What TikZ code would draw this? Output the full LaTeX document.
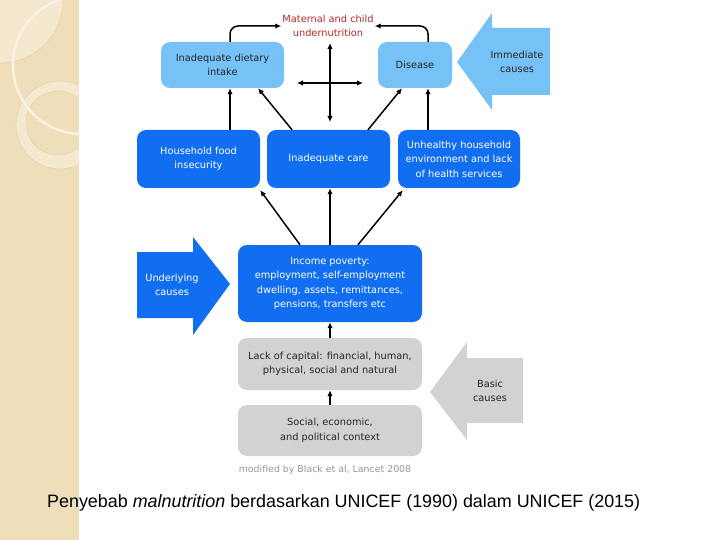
\documentclass[tikz,border=0pt]{standalone}
\usepackage{fontspec}
\setmainfont{Liberation Sans}
\newfontfamily\boxfont{DejaVu Sans}
\usetikzlibrary{arrows.meta,calc}
\definecolor{uc-beige}{RGB}      {239, 222, 186}
\definecolor{uc-beigelight}{RGB} {244, 232, 206}
\definecolor{uc-beigeline}{RGB}  {214, 193, 152}
\definecolor{uc-lightblue}{RGB}  {118, 193, 245}
\definecolor{uc-blue}{RGB}       { 18, 110, 240}
\definecolor{uc-grey}{RGB}       {210, 210, 210}
\definecolor{uc-red}{RGB}        {176,  42,  42}
\definecolor{uc-note}{RGB}       {150, 150, 150}

\begin{document}
\begin{tikzpicture}[x=1pt,y=-1pt,
	>={Latex[length=6pt,width=5.5pt]},
	box/.style={rounded corners=9pt, minimum width=123pt, minimum height=46pt,
		align=center, inner sep=2pt, font=\boxfont\fontsize{9.8}{14.5}\selectfont},
	light/.style={box, fill=uc-lightblue, text=black!85},
	dark/.style={box, fill=uc-blue, text=white},
	grey/.style={box, fill=uc-grey, text=black!85},
	causes/.style={align=center, font=\boxfont\fontsize{9.8}{14.5}\selectfont},
	link/.style={->, line width=1.5pt, black},
]
\useasboundingbox (0,0) rectangle (720,540);

% slide stripe
\fill[uc-beige] (0,0) rectangle (79,540);
\begin{scope}
	\clip (0,0) rectangle (79,540);
	\fill[uc-beigelight] (0,0) circle (63);
	\fill[uc-beigelight, even odd rule] (60,125) circle (44) (58,123) circle (32);
	\draw[uc-beigeline, very thin] (60,125) circle (44) (58,123) circle (32) (0,0) circle (63);
	\draw[white!60!uc-beige, line width=2.5pt] (82,65) circle (69);
\end{scope}

% block arrows
\fill[uc-lightblue] (457,62) -- (492,13) -- (492,28) -- (550,28) -- (550,95)
	-- (492,95) -- (492,110) -- cycle;
\node[causes, text=black!85] (immediate) at (517,62) {Immediate\\causes};
\fill[uc-blue] (137,252) -- (193,252) -- (193,237) -- (230,284) -- (193,335)
	-- (193,318) -- (137,318) -- cycle;
\node[causes, text=white] (underlying) at (172,285) {Underlying\\causes};
\fill[uc-grey] (430,392) -- (467,342) -- (467,358) -- (523,358) -- (523,423)
	-- (467,423) -- (467,440) -- cycle;
\node[causes, text=black!85] (basic) at (490,391) {Basic\\causes};

% boxes
\node[text=uc-red, align=center, inner sep=1pt, font=\boxfont\fontsize{9.8}{14.5}\selectfont]
	(maternal) at (328,26) {Maternal and child\\undernutrition};
\node[light] (diet) at (222.5,65) {Inadequate dietary\\intake};
\node[light, minimum width=74pt] (disease) at (415,65) {Disease};
\node[dark, minimum height=58pt] (food) at (198.5,159) {Household food\\insecurity};
\node[dark, minimum height=58pt] (care) at (328.5,159) {Inadequate care};
\node[dark, minimum width=122pt, minimum height=58pt] (unhealthy) at (459,159)
	{Unhealthy household\\environment and lack\\of health services};
\node[dark, minimum width=184pt, minimum height=77pt] (income) at (330,283.5)
	{Income poverty:\\employment, self-employment\\dwelling, assets, remittances,\\pensions, transfers etc};
\node[grey, minimum width=184pt, minimum height=52pt] (capital) at (330,364)
	{Lack of capital: financial, human,\\physical, social and natural};
\node[grey, minimum width=184pt, minimum height=51pt] (context) at (330,430.5)
	{Social, economic,\\and political context};
\node[text=uc-note, font=\boxfont\fontsize{9.4}{11}\selectfont] (source) at (325,470)
	{modified by Black et al, Lancet 2008};
\node[anchor=base west, inner sep=0pt, font=\fontsize{17.9}{20}\selectfont] (caption) at (47,507)
	{Penyebab \textit{malnutrition} berdasarkan UNICEF (1990) dalam UNICEF (2015)};

% connectors
\draw[link, rounded corners=8pt] ($(diet.north)+(7.5,0)$) |- (maternal.west);
\draw[link, rounded corners=8pt] ($(disease.north)+(13,0)$) |- (maternal.east);
\coordinate (crossN) at (330,43);
\coordinate (crossS) at (330,122);
\coordinate (crossW) at (297,83);
\coordinate (crossE) at (363,83);
\draw[link, <->] (crossN) -- (crossS);
\draw[link, <->] (crossW) -- (crossE);

\draw[link] ($(food.north)+(31.5,0)$) -- ($(diet.south)+(7.5,0)$);
\draw[link] ($(care.north)+(-36.5,0)$) -- ($(diet.south)+(35.5,0)$);
\draw[link] ($(care.north)+(39.5,0)$) -- ($(disease.south)+(-13,0)$);
\draw[link] ($(unhealthy.north)+(-31,0)$) -- ($(disease.south)+(13,0)$);

\draw[link] ($(income.north)+(-30,0)$) -- ($(food.south east)+(0,2)$);
\draw[link] (income.north) -- (income.north |- care.south);
\draw[link] ($(income.north)+(28,0)$) -- ($(unhealthy.south west)+(5,2)$);
\draw[link] (capital.north) -- (income.south);
\draw[link] (context.north) -- (capital.south);
\end{tikzpicture}
\end{document}
